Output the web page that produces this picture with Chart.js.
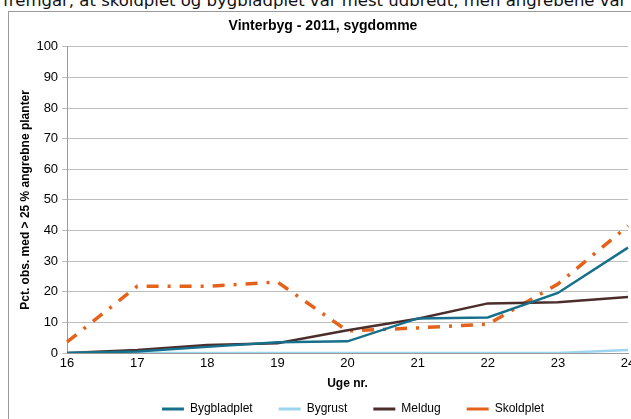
<!DOCTYPE html>
<html>
<head>
<meta charset="utf-8">
<script src="https://cdn.jsdelivr.net/npm/chart.js@4.4.1/dist/chart.umd.min.js"></script>
<style>
  html, body { margin: 0; padding: 0; background: #fff; overflow: hidden; width: 631px; height: 419px; }
  .para { position: absolute; left: 3px; top: -7px; font-family: "DejaVu Sans", Verdana, sans-serif; font-size: 16.5px; line-height: 16.5px; color: #111; white-space: nowrap; }
  .box { position: absolute; left: 8px; top: 11px; width: 700px; height: 500px; border-left: 1px solid #9a9a9a; border-top: 1px solid #9a9a9a; }
  canvas { position: absolute; left: 9px; top: 13px; }
</style>
</head>
<body>
<div class="para">fremgår, at skoldplet og bygbladplet var mest udbredt, men angrebene var</div>
<div class="box"></div>
<canvas id="chart" width="640" height="409"></canvas>
<script>
// uge nr.
const weeks = ['16', '17', '18', '19', '20', '21', '22', '23', '24'];

// pct. obs. med > 25 % angrebne planter
const bygbladplet = [0, 0.5, 2, 3.5, 3.8, 11.3, 11.6, 19.6, 34.4];
const bygrust = [0, 0, 0, 0, 0, 0, 0, 0, 1];
const meldug = [0, 1, 2.6, 3.2, 7.4, 11.2, 16.2, 16.6, 18.3];
const skoldplet = [3.6, 21.8, 21.8, 23.2, 7.2, 8.2, 9.4, 22.5, 41.5];

const yTicks = [0, 10, 20, 30, 40, 50, 60, 70, 80, 90, 100];

const font = "'Liberation Sans', Arial, sans-serif";

// wide gaps between legend items but a tight row height, legend a bit right of centre
const LEGEND_CUT = 21;
const LEGEND_LIFT = 18;
const LEGEND_SHIFT = 30;
const legendSpacing = {
  id: 'legendSpacing',
  beforeLayout(chart) {
    const lg = chart.legend;
    if (lg && !lg._tight) {
      const fit = lg.fit.bind(lg);
      lg.fit = function () { fit(); this.height -= LEGEND_CUT; };
      lg._tight = true;
    }
  },
  afterLayout(chart) {
    const lg = chart.legend;
    if (!lg) return;
    lg.top -= LEGEND_LIFT;
    lg.left += LEGEND_SHIFT;
    lg.right += LEGEND_SHIFT;
  }
};

new Chart(document.getElementById('chart'), {
  type: 'line',
  data: {
    labels: weeks,
    datasets: [
      { label: 'Bygbladplet', data: bygbladplet, borderColor: '#17708b', backgroundColor: '#17708b', borderWidth: 2.5 },
      { label: 'Bygrust', data: bygrust, borderColor: '#9dd5ee', backgroundColor: '#9dd5ee', borderWidth: 2.5 },
      { label: 'Meldug', data: meldug, borderColor: '#4b2d2b', backgroundColor: '#4b2d2b', borderWidth: 2.5 },
      { label: 'Skoldplet', data: skoldplet, borderColor: '#e4621c', backgroundColor: '#e4621c', borderWidth: 3.5,
        borderDash: [12, 9, 3, 9] }
    ]
  },
  plugins: [legendSpacing],
  options: {
    responsive: false,
    animation: false,
    elements: { point: { radius: 0 }, line: { tension: 0 } },
    layout: { padding: { left: 9, right: 21, top: 3, bottom: 0 } },
    plugins: {
      title: {
        display: true,
        text: 'Vinterbyg - 2011, sygdomme',
        color: '#000',
        font: { family: font, size: 14, weight: 'bold' },
        padding: { top: 2, bottom: 12 }
      },
      legend: {
        position: 'bottom',
        labels: {
          color: '#000',
          font: { family: font, size: 12 },
          boxWidth: 22,
          boxHeight: 3,
          padding: 26,
          generateLabels: (chart) => Chart.defaults.plugins.legend.labels.generateLabels(chart)
            .map(item => Object.assign(item, { lineWidth: 0, lineDash: [] }))
        }
      },
      tooltip: { enabled: false }
    },
    scales: {
      x: {
        offset: false,
        grid: { display: false, drawTicks: false },
        border: { color: '#9a9a9a' },
        ticks: { color: '#000', font: { family: font, size: 13 }, maxRotation: 0, autoSkip: false, padding: 3 },
        title: { display: true, text: 'Uge nr.', color: '#000', font: { family: font, size: 12, weight: 'bold' }, padding: { top: 2 } }
      },
      y: {
        min: 0,
        max: 100,
        afterBuildTicks: (axis) => { axis.ticks = yTicks.map(v => ({ value: v })); },
        grid: { color: '#bdbdbd', tickLength: 5 },
        border: { color: '#9a9a9a' },
        ticks: { color: '#000', font: { family: font, size: 13 }, padding: 4 },
        title: { display: true, text: 'Pct. obs. med > 25 % angrebne planter', color: '#000', font: { family: font, size: 12, weight: 'bold' }, padding: 0 }
      }
    }
  }
});
</script>
</body>
</html>
